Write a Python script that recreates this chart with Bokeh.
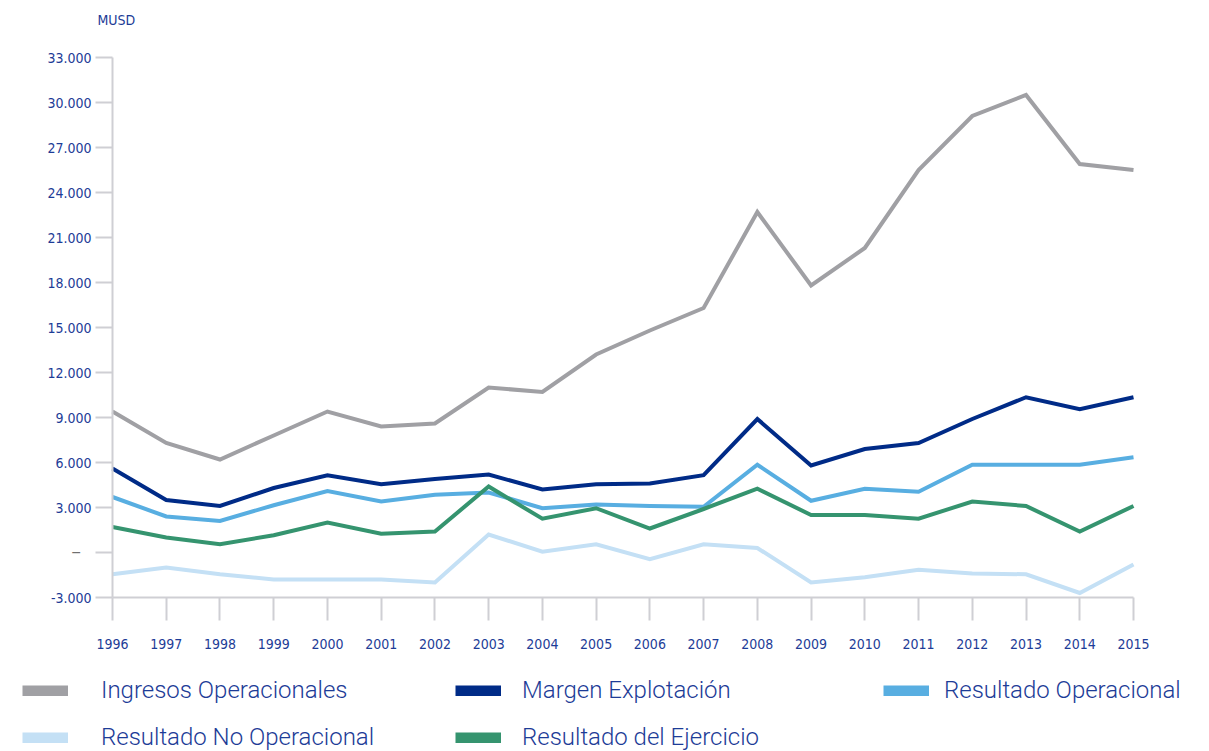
from bokeh.plotting import figure
from bokeh.models import (Range1d, FixedTicker, Legend, LegendItem, Label, LinearAxis)
from bokeh.embed import file_html
from bokeh.resources import INLINE

# Annual figures, millions of USD
years = list(range(1996, 2016))
ingresos = [9400, 7300, 6200, 7800, 9400, 8400, 8600, 11000, 10700, 13200,
            14800, 16300, 22700, 17800, 20300, 25500, 29100, 30500, 25900, 25500]
margen = [5600, 3500, 3100, 4300, 5150, 4550, 4900, 5200, 4200, 4550,
          4600, 5150, 8900, 5800, 6900, 7300, 8900, 10350, 9550, 10350]
res_operacional = [3700, 2400, 2100, 3150, 4100, 3400, 3850, 4000, 2950, 3200,
                   3100, 3050, 5850, 3450, 4250, 4050, 5850, 5850, 5850, 6350]
res_no_operacional = [-1450, -1000, -1450, -1800, -1800, -1800, -2000, 1200, 50, 550,
                      -450, 550, 300, -2000, -1650, -1150, -1400, -1450, -2700, -800]
res_ejercicio = [1700, 1000, 550, 1150, 2000, 1250, 1400, 4400, 2250, 2950,
                 1600, 2900, 4250, 2500, 2500, 2250, 3400, 3100, 1400, 3100]

series_names = ["Ingresos Operacionales", "Margen Explotación", "Resultado Operacional",
                "Resultado No Operacional", "Resultado del Ejercicio"]
series_values = [ingresos, margen, res_operacional, res_no_operacional, res_ejercicio]
series_colors = ["#a0a0a4", "#002b87", "#58aee1", "#c4e0f5", "#35946f"]

y_ticks = list(range(-3000, 33001, 3000))
y_tick_labels = {v: ("" if v == 0 else f"{v:,}".replace(",", ".")) for v in y_ticks}
zero_label = "–"
unit_label = "MUSD"

TEXT_BLUE = "#1d3c97"
AXIS_GREY = "#cfcfd4"
NARROW = "DejaVu Sans Condensed"

# Canvas geometry: the frame covers the whole page, and the axes are pinned
# inside it so that the caption and legend are never clipped.
W, H = 1209, 751
PLOT_L, PLOT_R, PLOT_T, PLOT_B = 112, 1133, 57, 597
x_lo, x_hi = years[0], years[-1]
y_lo, y_hi = y_ticks[0], y_ticks[-1]
px_x = (PLOT_R - PLOT_L) / (x_hi - x_lo)
px_y = (PLOT_B - PLOT_T) / (y_hi - y_lo)
x_range = Range1d(x_lo - PLOT_L / px_x, x_hi + (W - PLOT_R) / px_x)
y_range = Range1d(y_lo - (H - PLOT_B) / px_y, y_hi + PLOT_T / px_y)

p = figure(width=W, height=H, output_backend="svg", toolbar_location=None, title=None,
           x_range=x_range, y_range=y_range, x_axis_type=None, y_axis_type=None,
           min_border=0, min_border_left=0, min_border_right=0,
           min_border_top=0, min_border_bottom=0)
p.outline_line_color = None
p.xgrid.visible = False
p.ygrid.visible = False
p.background_fill_color = "white"
p.border_fill_color = "white"

ya = LinearAxis(fixed_location=x_lo, bounds=(y_lo, y_hi),
                ticker=FixedTicker(ticks=y_ticks), major_label_overrides=y_tick_labels,
                axis_line_color=AXIS_GREY, axis_line_width=2,
                major_tick_line_color=AXIS_GREY, major_tick_line_width=2,
                major_tick_in=0, major_tick_out=17, minor_tick_line_color=None,
                major_label_standoff=4, major_label_text_font=NARROW,
                major_label_text_font_size="14px", major_label_text_color=TEXT_BLUE)
p.add_layout(ya, "left")

xa = LinearAxis(fixed_location=y_lo, bounds=(x_lo, x_hi),
                ticker=FixedTicker(ticks=years),
                major_label_overrides={y: str(y) for y in years},
                axis_line_color=AXIS_GREY, axis_line_width=2,
                major_tick_line_color=AXIS_GREY, major_tick_line_width=2,
                major_tick_in=0, major_tick_out=23, minor_tick_line_color=None,
                major_label_standoff=18, major_label_text_font=NARROW,
                major_label_text_font_size="14px", major_label_text_color=TEXT_BLUE)
p.add_layout(xa, "below")

# zero tick shown as a grey dash
p.add_layout(Label(x=x_lo, y=0, x_offset=-31, y_offset=-1, text=zero_label,
                   text_align="right", text_baseline="middle", text_color="#6f6f6f",
                   text_font="Roboto", text_font_size="16px"))
# unit caption
p.add_layout(Label(x=97, y=H - 19, x_units="screen", y_units="screen", text=unit_label,
                   text_baseline="middle", text_color=TEXT_BLUE,
                   text_font=NARROW, text_font_size="14px"))

# series lines
for name, vals, col in zip(series_names, series_values, series_colors):
    p.line(years, vals, line_color=col, line_width=4, line_join="miter")

# legend keys: hidden wide strokes of each series, shown as solid bars
keys = {}
for name, vals, col in zip(series_names, series_values, series_colors):
    keys[name] = p.line(years, vals, line_color=col, line_width=11, line_cap="butt",
                        visible=False)

# three legend columns: (entries, left edge, gap between key and text)
legend_columns = [
    ([series_names[0], series_names[3]], 22, 33),
    ([series_names[1], series_names[4]], 455, 21),
    ([series_names[2]], 883, 15),
]
ROW_H, ROW_GAP, LEG_TOP = 30, 17, 675
for names, left, gap in legend_columns:
    n = len(names)
    height = n * ROW_H + (n - 1) * ROW_GAP
    lg = Legend(items=[LegendItem(label=nm, renderers=[keys[nm]]) for nm in names],
                location=(left, H - LEG_TOP - height), orientation="vertical",
                glyph_width=46, glyph_height=11, label_standoff=gap,
                label_height=ROW_H, spacing=ROW_GAP, padding=0, margin=0,
                border_line_color=None, background_fill_alpha=0,
                inactive_fill_alpha=0,
                label_text_font="Roboto Light", label_text_font_size="24px",
                label_text_color=TEXT_BLUE, label_text_baseline="middle")
    p.add_layout(lg, "center")

open("out.html", "w").write(file_html(p, INLINE))
